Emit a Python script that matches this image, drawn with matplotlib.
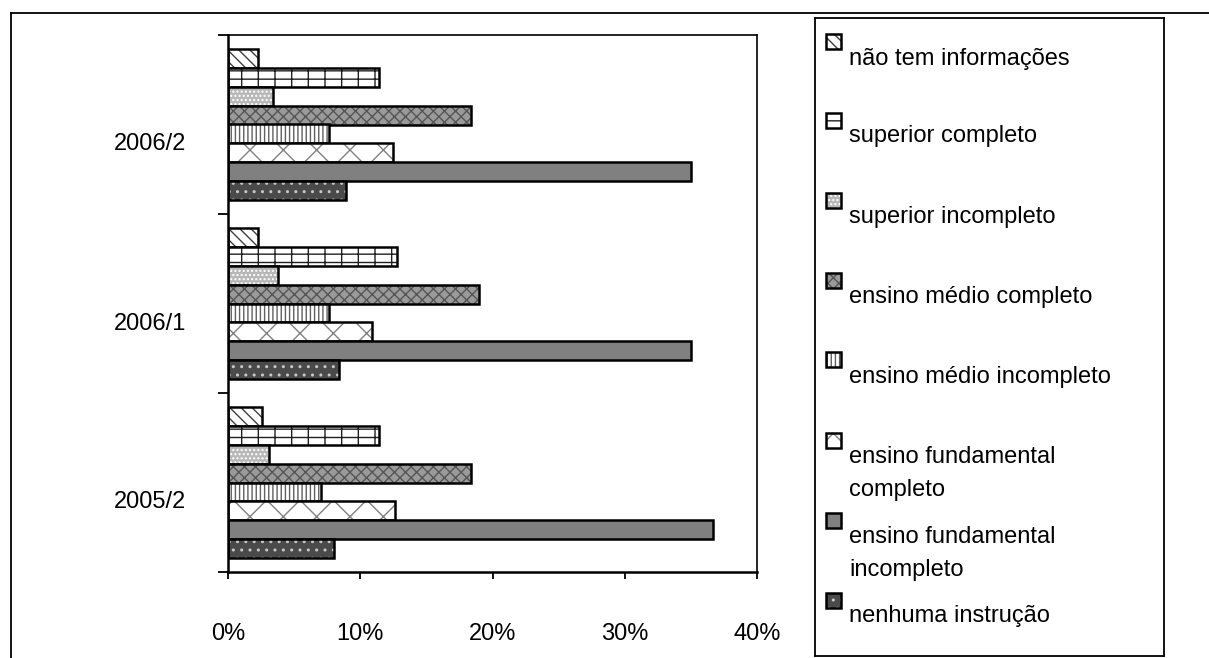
import matplotlib.pyplot as plt
from matplotlib.lines import Line2D
from matplotlib.patches import Rectangle
from matplotlib.transforms import ScaledTranslation
import numpy as np

plt.rcParams['font.family'] = ['Liberation Sans', 'DejaVu Sans']

# data (percent)
periodos = ['2005/2', '2006/1', '2006/2']
nao_tem = [2.6, 2.3, 2.3]
sup_completo = [11.4, 12.8, 11.4]
sup_incompleto = [3.1, 3.8, 3.4]
medio_completo = [18.4, 19.0, 18.4]
medio_incompleto = [7.0, 7.6, 7.6]
fund_completo = [12.6, 10.9, 12.5]
fund_incompleto = [36.7, 35.0, 35.0]
nenhuma = [8.0, 8.4, 8.9]

rotulos = ['não tem informações', 'superior completo', 'superior incompleto',
           'ensino médio completo', 'ensino médio incompleto',
           'ensino fundamental\ncompleto', 'ensino fundamental\nincompleto',
           'nenhuma instrução']
series = [nao_tem, sup_completo, sup_incompleto, medio_completo,
          medio_incompleto, fund_completo, fund_incompleto, nenhuma]
xticks = [0, 10, 20, 30, 40]
xtick_labels = ['0%', '10%', '20%', '30%', '40%']

# (face, hatch, hatch colour) per series
estilos = [('white', '\\\\\\', '#404040'),
           ('white', '--|', '#202020'),
           ('#b8b8b8', '....', 'white'),
           ('#9a9a9a', 'xxx', '#555555'),
           ('white', '||||', '#606060'),
           ('white', 'x', '#808080'),
           ('#808080', '', '#808080'),
           ('#4a4a4a', '..', '#c8c8c8')]

W, H = 1209, 658
fig = plt.figure(figsize=(W / 100, H / 100), dpi=100)

# outer frame
fig.add_artist(Line2D([11 / W, 1.0], [1 - 13 / H, 1 - 13 / H], color='black', lw=1.3))
fig.add_artist(Line2D([11 / W, 11 / W], [0, 1 - 13 / H], color='black', lw=1.3))

ax = fig.add_axes([228 / W, (H - 572) / H, (757 - 228) / W, (572 - 35) / H])
y = np.arange(len(periodos))
w = 0.1055
n = len(series)
for i, vals in enumerate(series):
    face, hatch, hcol = estilos[i]
    pos = y + (n / 2 - 0.5 - i) * w
    ax.barh(pos, vals, height=w, color=face, edgecolor=hcol, hatch=hatch, lw=0)
    ax.barh(pos, vals, height=w, fill=False, edgecolor='black', lw=1.8)

ax.set_xlim(0, 40)
ax.set_ylim(-0.5, 2.5)
ax.set_xticks(xticks)
ax.set_xticklabels(xtick_labels, fontsize=17)
ax.tick_params(axis='x', direction='out', length=5, width=1.3, pad=32)
ax.set_yticks([-0.5, 0.5, 1.5, 2.5])
ax.set_yticklabels([])
ax.set_yticks(y, minor=True)
ax.set_yticklabels(periodos, minor=True, fontsize=17)
ax.tick_params(axis='y', which='major', direction='out', length=7, width=1.3)
ax.tick_params(axis='y', which='minor', length=0, pad=30)
for lab in ax.get_yticklabels(minor=True):
    lab.set_va('center')
    lab.set_transform(lab.get_transform() + ScaledTranslation(0, -0.2, fig.dpi_scale_trans))
for sp in ax.spines.values():
    sp.set_linewidth(1.2)
ax.spines['bottom'].set_linewidth(1.8)
ax.spines['left'].set_linewidth(1.8)

# legend box drawn in pixel coordinates
lg = fig.add_axes([815 / W, (H - 656) / H, (1164 - 815) / W, (656 - 18) / H])
lg.set_xlim(815, 1164)
lg.set_ylim(656, 18)
lg.set_xticks([])
lg.set_yticks([])
for sp in lg.spines.values():
    sp.set_linewidth(1.3)

patch_top = [34, 113, 193, 273, 352, 433, 513, 593]
base = [65, 142, 223, 303, 383, 463, 543, 622]
for i, texto in enumerate(rotulos):
    face, hatch, hcol = estilos[i]
    lg.add_patch(Rectangle((826, patch_top[i]), 15, 15, facecolor=face, edgecolor=hcol,
                           hatch=hatch, lw=0))
    lg.add_patch(Rectangle((826, patch_top[i]), 15, 15, fill=False, edgecolor='black', lw=1.8))
    for k, linha in enumerate(texto.split('\n')):
        lg.text(849, base[i] + 33 * k, linha, fontsize=17, va='baseline', ha='left')

fig.savefig('out.png', dpi=100)
